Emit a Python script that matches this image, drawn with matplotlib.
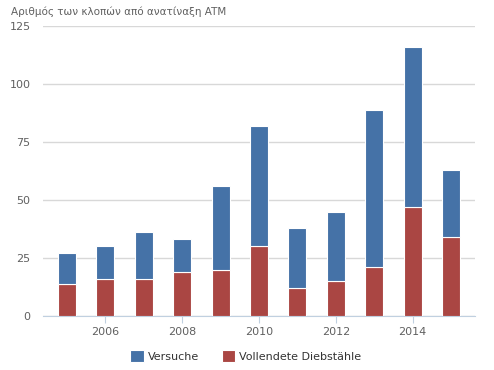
import matplotlib.pyplot as plt
import numpy as np

years = [2005, 2006, 2007, 2008, 2009, 2010, 2011, 2012, 2013, 2014, 2015]
vollendete = [14, 16, 16, 19, 20, 30, 12, 15, 21, 47, 34]
gesamt = [27, 30, 36, 33, 56, 82, 38, 45, 89, 116, 63]
versuche = [g - v for g, v in zip(gesamt, vollendete)]

blue = '#4572A7'
red = '#AA4643'
txt = '#606060'

fig = plt.figure(figsize=(4.94, 3.70), dpi=100)
ax = fig.add_axes([43/494, 1-316/370, 432/494, 290/370])

ax.bar(years, vollendete, width=0.47, color=red, edgecolor='white', linewidth=0.8, label='Vollendete Diebstähle', zorder=3)
ax.bar(years, versuche, bottom=vollendete, width=0.47, color=blue, edgecolor='white', linewidth=0.8, label='Versuche', zorder=3)

ax.set_xlim(2004.375, 2015.625)
ax.set_ylim(0, 125)
ax.set_yticks([0, 25, 50, 75, 100, 125])
ax.set_xticks([2006, 2008, 2010, 2012, 2014])
ax.grid(axis='y', color='#D8D8D8', linewidth=1, zorder=0)
for s in ['top', 'right', 'left']:
    ax.spines[s].set_visible(False)
ax.spines['bottom'].set_color('#C0D0E0')
ax.tick_params(axis='y', length=0, pad=9, labelsize=8, labelcolor=txt)
ax.tick_params(axis='x', length=5, color='#C0D0E0', labelsize=8, labelcolor=txt, pad=3)

fig.text(11/494, 1-12/370, 'Αριθμός των κλοπών από ανατίναξη ATM', fontsize=7.5, color=txt, va='center')

h, l = ax.get_legend_handles_labels()
fig.legend(h[::-1], l[::-1], loc='center', bbox_to_anchor=(246/494, 1-356/370), ncol=2,
           frameon=False, fontsize=8, labelcolor='#333333', handlelength=1.2, handleheight=1.2,
           columnspacing=2, handletextpad=0.4)

fig.savefig('out.png', dpi=100)
